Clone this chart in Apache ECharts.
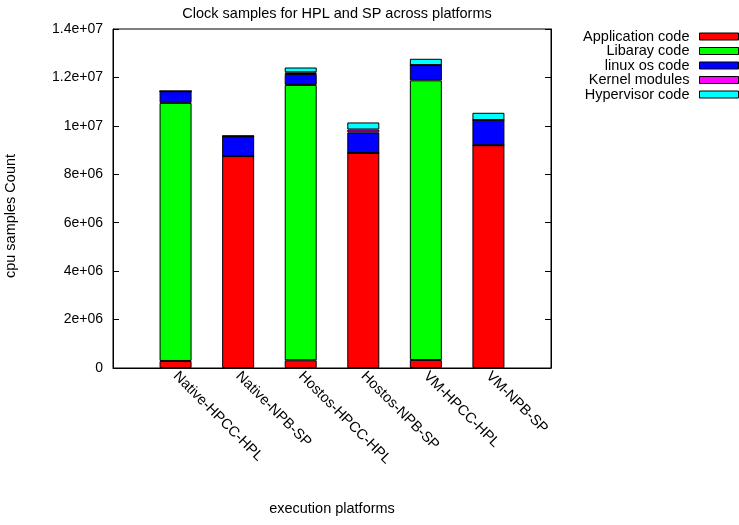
<!DOCTYPE html>
<html><head><meta charset="utf-8">
<script src="https://cdn.jsdelivr.net/npm/echarts@6/dist/echarts.min.js"></script>
<style>html,body{margin:0;padding:0;background:#fff}#c{width:739px;height:525px}</style>
</head><body><div id="c"></div>
<script>
const categories = ['Native-HPCC-HPL','Native-NPB-SP','Hostos-HPCC-HPL','Hostos-NPB-SP','VM-HPCC-HPL','VM-NPB-SP'];
const seriesNames = ['Application code','Libaray code','linux os code','Kernel modules','Hypervisor code'];
const applicationCode = [290000, 8750000, 320000, 8880000, 330000, 9200000];
const libarayCode     = [10660000, 0, 11370000, 0, 11550000, 0];
const linuxOsCode     = [480000, 820000, 450000, 850000, 630000, 1040000];
const kernelModules   = [0, 0, 70000, 120000, 0, 0];
const hypervisorCode  = [0, 20000, 200000, 290000, 260000, 300000];
const yTicks = [0, 2e6, 4e6, 6e6, 8e6, 1e7, 1.2e7, 1.4e7];
const colors = ['#ff0000','#00ff00','#0000ff','#ff00ff','#00ffff'];

const allValues = [applicationCode, libarayCode, linuxOsCode, kernelModules, hypervisorCode];
const FONT = 'Liberation Sans';
const FS = 14.5;
function fmtY(v){
  if (v === 0) return '0';
  const e = Math.floor(Math.log10(v) + 1e-9);
  const m = Math.round(v / Math.pow(10, e) * 1000) / 1000;
  return m + 'e+' + (e < 10 ? '0' + e : e);
}
const chart = echarts.init(document.getElementById('c'));
chart.setOption({
  animation: false,
  backgroundColor: '#fff',
  textStyle: { fontFamily: FONT, color: '#000' },
  title: { text: 'Clock samples for HPL and SP across platforms', left: 332, textAlign: 'center', top: 1,
    textStyle: { fontFamily: FONT, fontSize: FS, fontWeight: 'normal', color: '#000' } },
  legend: {
    orient: 'vertical', right: 0, top: 29, align: 'right',
    itemWidth: 39, itemHeight: 7, itemGap: -0.5, padding: 0,
    textStyle: { fontFamily: FONT, fontSize: FS, lineHeight: 14.5, color: '#000', padding: [0, 5, 0, 0] },
    data: seriesNames.map(n => ({ name: n, icon: 'rect', itemStyle: { borderColor: '#000', borderWidth: 1 } }))
  },
  graphic: [{
    type: 'text', x: 11, y: 216, rotation: Math.PI / 2,
    style: { text: 'cpu samples Count', font: FS + 'px "' + FONT + '"', fill: '#000', align: 'center', verticalAlign: 'middle' }
  }],
  grid: { left: 113, right: 188, top: 29, bottom: 157, show: true, borderColor: '#000', borderWidth: 1,
    outerBoundsMode: 'none', containLabel: false },
  xAxis: {
    type: 'category', data: categories, boundaryGap: false, min: -1, max: 6,
    name: 'execution platforms', nameLocation: 'middle', nameGap: 133,
    nameTextStyle: { fontFamily: FONT, fontSize: FS, color: '#000' },
    axisLine: { lineStyle: { color: '#000' } }, axisTick: { show: false }, splitLine: { show: false },
    axisLabel: { rotate: -45, margin: 6, interval: 0, fontFamily: FONT, fontSize: FS, color: '#000',
      formatter: v => (v && v !== 'undefined') ? v : '' }
  },
  yAxis: [{
    type: 'value', min: 0, max: 1.4e7, interval: 2e6,
    axisLine: { show: true, lineStyle: { color: '#000' } },
    axisTick: { show: true, inside: true, length: 6, lineStyle: { color: '#000' } },
    splitLine: { show: false },
    axisLabel: { margin: 10, fontFamily: FONT, fontSize: 14, color: '#000', formatter: fmtY }
  }, {
    type: 'value', min: 0, max: 1.4e7, interval: 2e6, position: 'right',
    axisLine: { show: true, lineStyle: { color: '#000' } },
    axisTick: { show: true, inside: true, length: 6, lineStyle: { color: '#000' } },
    splitLine: { show: false }, axisLabel: { show: false }
  }],
  series: seriesNames.map((n, k) => ({
    name: n, type: 'bar', stack: 'total', barWidth: 32,
    itemStyle: { color: colors[k], borderColor: '#000', borderWidth: 1 },
    data: allValues[k]
  }))
});
</script></body></html>
